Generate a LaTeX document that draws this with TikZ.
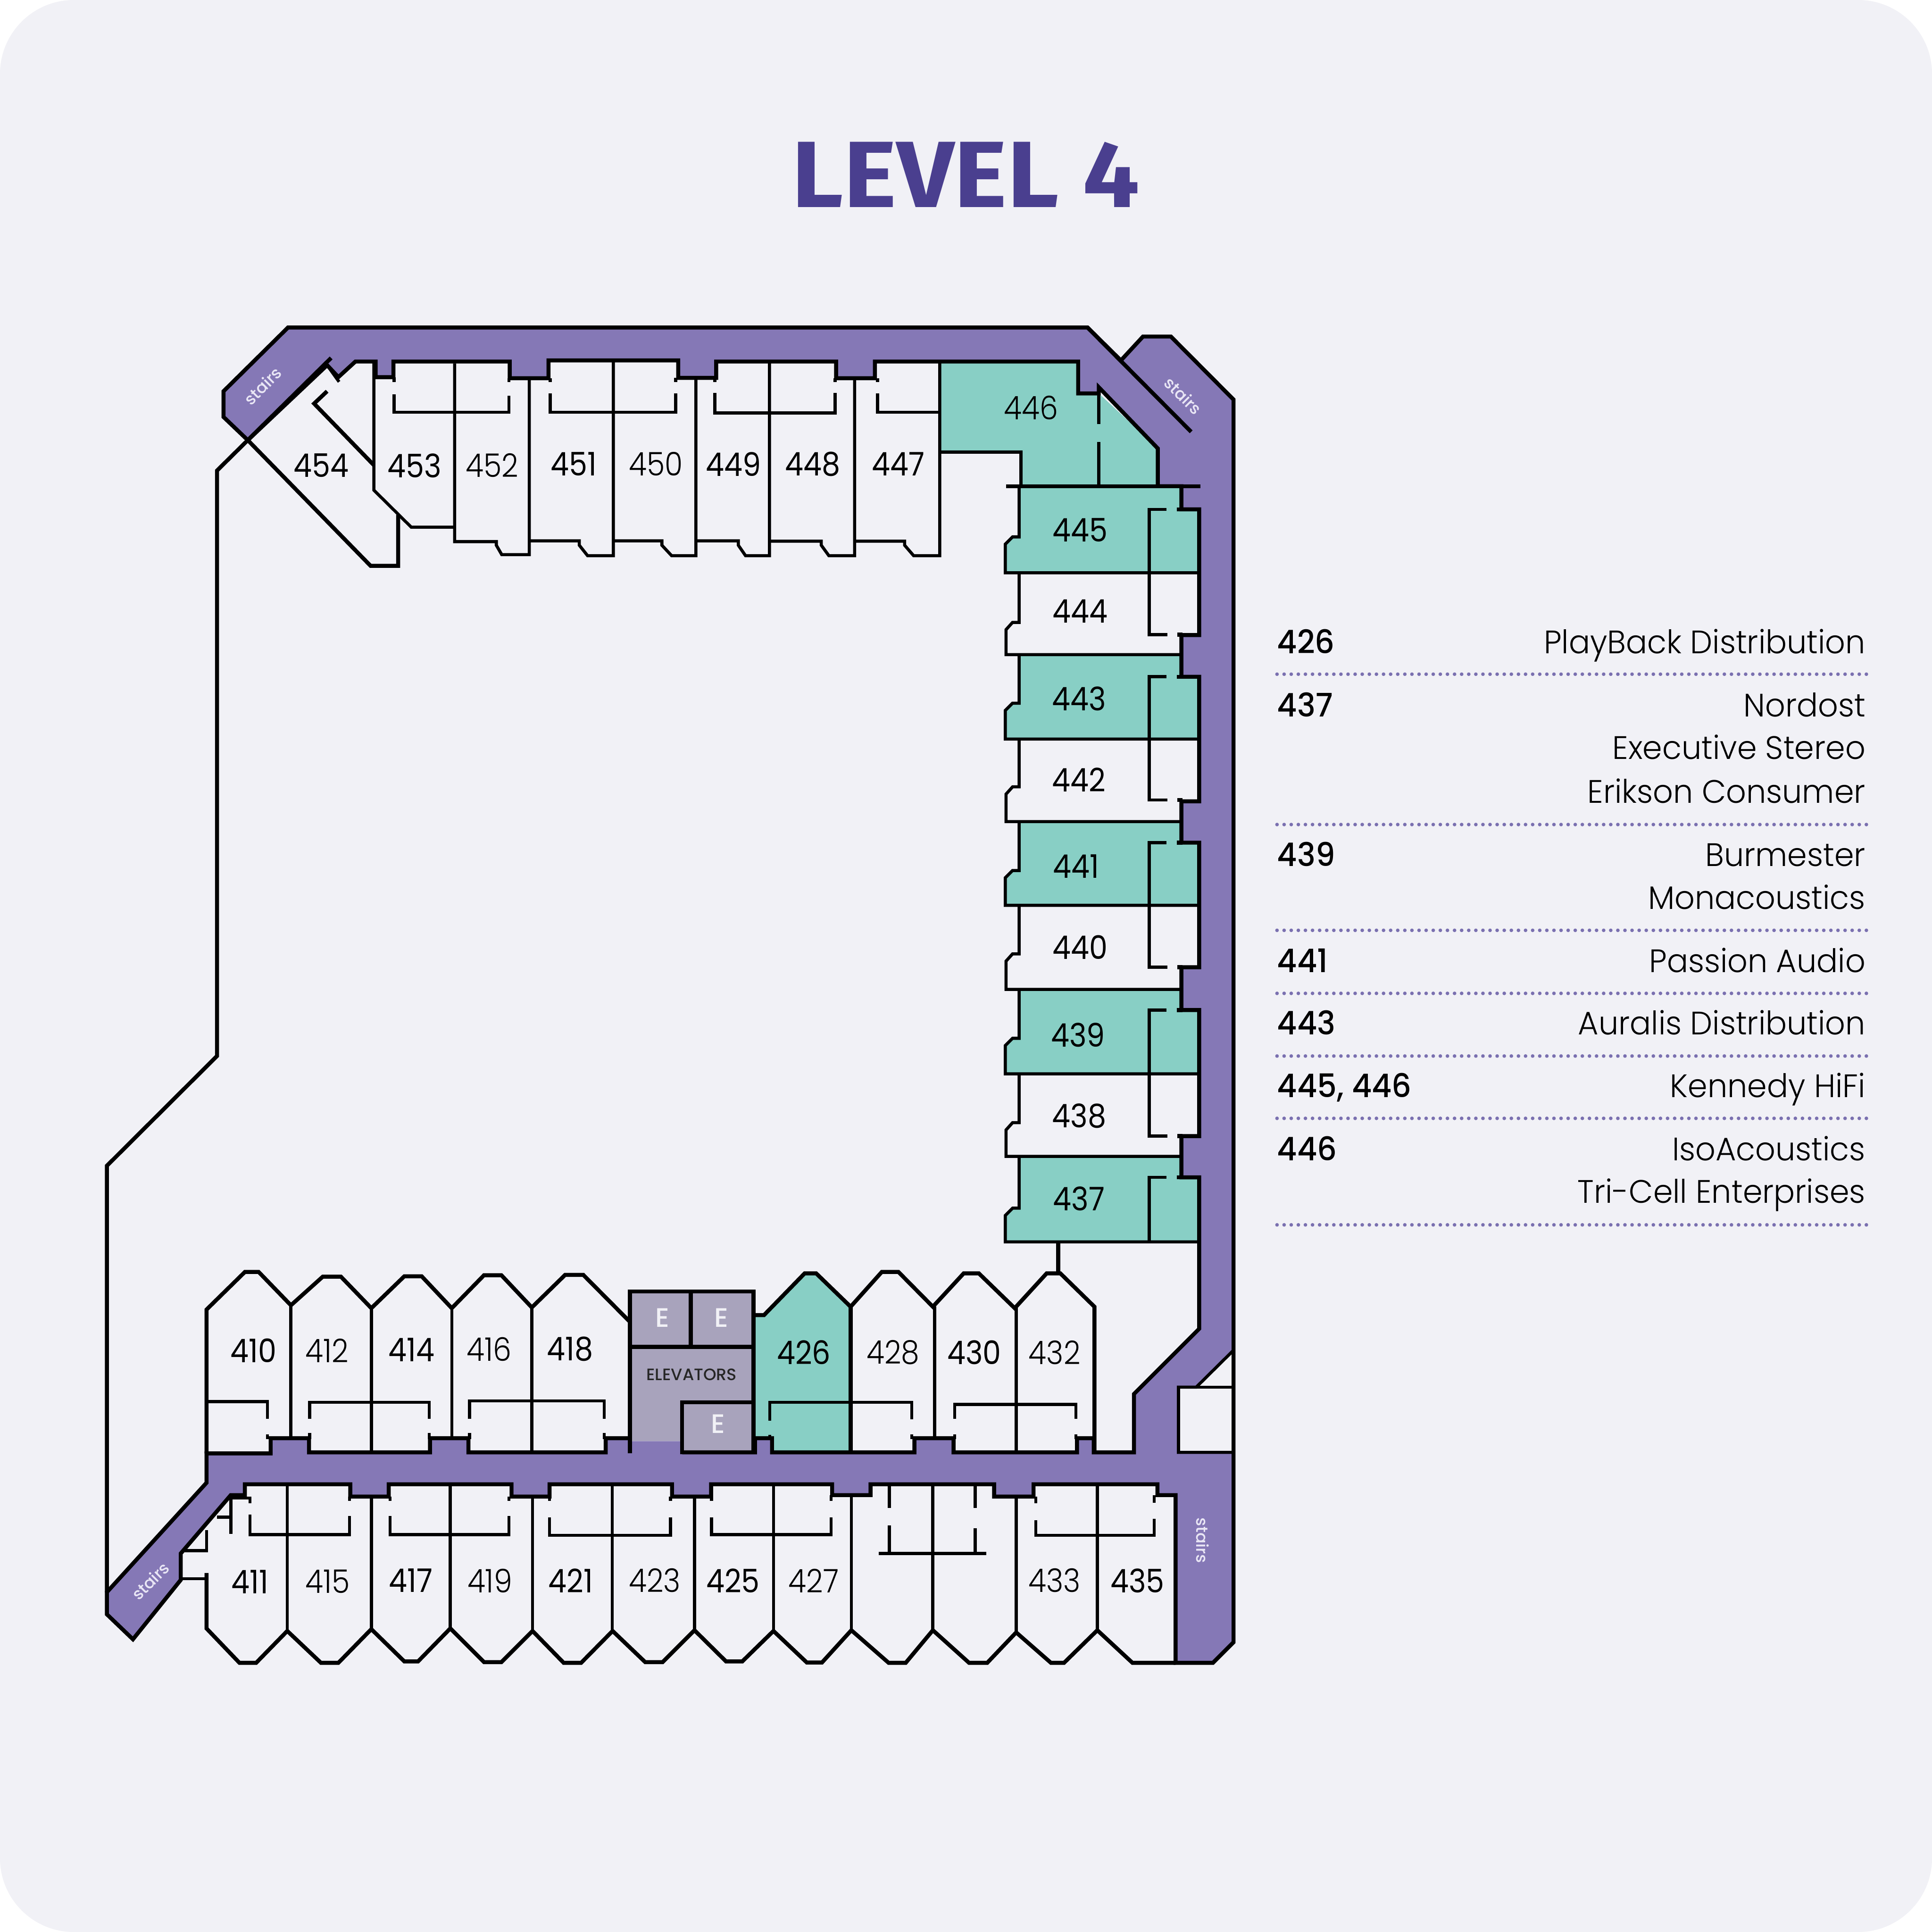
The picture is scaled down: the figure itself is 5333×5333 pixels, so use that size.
\documentclass[tikz,border=0pt]{standalone}
\usepackage{fontspec}
\setmainfont{Lato}
\newfontfamily\lightf{Poppins}[UprightFont=* Light,FakeStretch=0.97]
\newfontfamily\roomthin{Poppins}[UprightFont=* Light,FakeStretch=0.9]
\newfontfamily\roomreg{Poppins}[FakeStretch=0.9]
\newfontfamily\numf{Poppins}[UprightFont=* Medium,FakeStretch=0.95]
\newfontfamily\midf{Poppins}[UprightFont=* Medium]
\newfontfamily\titlef{Fira Sans}[UprightFont=* Bold,FakeStretch=1.07]
\definecolor{bgc}{HTML}{F1F1F6}
\definecolor{corr}{HTML}{8578B6}
\definecolor{teal4}{HTML}{88CFC5}
\definecolor{elev}{HTML}{A8A3BC}
\definecolor{titlec}{HTML}{4A3F8F}
\definecolor{dotc}{HTML}{7A70B0}
\definecolor{stairc}{HTML}{E9E6F5}
\tikzset{
  wall/.style={draw=black,line width=1.1mm,line join=miter},
  thin wall/.style={draw=black,line width=0.85mm,line join=miter},
  roomlabel/.style={inner sep=0pt,font=\roomreg\fontsize{25.5}{30}\selectfont,text=black},
  roomlabelthin/.style={inner sep=0pt,font=\roomthin\fontsize{25.5}{30}\selectfont,text=black},
  elabel/.style={inner sep=0pt,font=\midf\fontsize{21}{24}\selectfont,text=bgc},
  stairlabel/.style={inner sep=0pt,font=\midf\fontsize{12.8}{16}\selectfont,text=stairc},
  legnum/.style={inner sep=0pt,anchor=base west,font=\numf\fontsize{25.5}{30}\selectfont},
  legname/.style={inner sep=0pt,anchor=base east,font=\lightf\fontsize{25.5}{30}\selectfont},
  legrule/.style={draw=dotc,line width=1mm,line cap=round,dash pattern=on 0pt off 1.96mm},
}
\def\corrpath{(1883,4009) -- (1883,4009) -- (2084,4009) -- (2084,3970) -- (2131,3970) -- (2131,4009) -- (2524,4009) -- (2524,3970) -- (2632,3970) -- (2632,4009) -- (2973,4009) -- (2973,3970) -- (3019,3970) -- (3019,4009) -- (3130,4009) -- (3130,3848) -- (3310,3668) -- (3310,3250) -- (3261,3250) -- (3261,3136) -- (3310,3136) -- (3310,2788) -- (3261,2788) -- (3261,2670) -- (3310,2670) -- (3310,2326) -- (3261,2326) -- (3261,2212) -- (3310,2212) -- (3310,1868) -- (3261,1868) -- (3261,1753) -- (3310,1753) -- (3310,1406) -- (3261,1406) -- (3261,1342) -- (3196,1342) -- (3196,1238) -- (3033,1069) -- (3033,1086) -- (2976,1086) -- (2976,998) -- (2415,998) -- (2415,1044) -- (2308,1044) -- (2308,998) -- (1977,998) -- (1977,1043) -- (1872,1043) -- (1872,995) -- (1514,995) -- (1514,1044) -- (1407,1044) -- (1407,998) -- (1086,998) -- (1086,1041) -- (1037,1041) -- (1037,998) -- (981,998) -- (934,1041) -- (903,1008) -- (684,1215) -- (617,1151) -- (617,1080) -- (795,904) -- (3002,904) -- (3094,995) -- (3155,929) -- (3232,929) -- (3405,1103) -- (3405,4533) -- (3348,4590) -- (3245,4590) -- (3245,4127) -- (3195,4127) -- (3195,4097) -- (2853,4097) -- (2853,4131) -- (2744,4131) -- (2744,4097) -- (2403,4097) -- (2403,4127) -- (2297,4127) -- (2297,4097) -- (1963,4097) -- (1963,4131) -- (1855,4131) -- (1855,4097) -- (1517,4097) -- (1517,4131) -- (1412,4131) -- (1412,4097) -- (1073,4097) -- (1073,4131) -- (967,4131) -- (967,4097) -- (676,4097) -- (676,4127) -- (637,4127) -- (499,4288) -- (499,4361) -- (367,4525) -- (295,4456) -- (295,4395) -- (570,4093) -- (570,4012) -- (747,4012) -- (747,3970) -- (853,3970) -- (853,4009) -- (1187,4009) -- (1187,3970) -- (1293,3970) -- (1293,4009) -- (1672,4009) -- (1672,3970) -- (1739,3970)}
\begin{document}
\begin{tikzpicture}[x=0.1mm,y=-0.1mm]
\useasboundingbox (0,0) rectangle (5333,5333);
\fill[white] (0,0) rectangle (5333,5333);
\fill[bgc,rounded corners=20.4mm] (0,0) rectangle (5333,5333);

% title
\node[inner sep=0pt,text=titlec,font=\titlef\fontsize{74}{80}\selectfont] (title) at (2666,482) {LEVEL 4};

% corridor
\fill[corr] \corrpath -- (1739,3978) -- (1883,3978) -- cycle;

% teal rooms
\fill[teal4] (2594,1002) -- (2971,1002) -- (2971,1086) -- (3033,1086) -- (3196,1238) -- (3196,1340) -- (2818,1340) -- (2818,1248) -- (2594,1248) -- cycle;
\fill[teal4] (2084,3630) -- (2109,3630) -- (2221,3515) -- (2253,3515) -- (2348,3607) -- (2348,4009) -- (2131,4009) -- (2131,3970) -- (2084,3970) -- cycle;
\foreach \t/\d/\s/\b in {1342/1406/1482/1581,1807/1868/1941/2040,2268/2326/2403/2499,2731/2788/2866/2964,3192/3250/3335/3428}{
  \fill[teal4] (2813,\t) -- (3261,\t) -- (3261,\d) -- (3310,\d) -- (3310,\b) -- (2775,\b) -- (2775,{\s+20}) -- (2795,\s) -- (2813,\s) -- cycle;
  \draw[thin wall] (2813,\t) -- (2813,\s) -- (2795,\s) -- (2775,{\s+20}) -- (2775,\b) -- (3310,\b);
  \draw[thin wall] (3220,\d) -- (3172,\d) -- (3172,\b);
  \draw[wall] (3248,\d) -- (3264,\d);
}
% white east rooms
\foreach \t/\s/\b/\k/\d in {1581/1718/1807/1752/1753,2040/2172/2268/2208/2212,2499/2633/2731/2670/2670,2964/3099/3192/3136/3136}{
  \draw[thin wall] (2813,\t) -- (2813,\s) -- (2795,\s) -- (2777,{\s+20}) -- (2777,\b) -- (3261,\b);
  \draw[thin wall] (3172,\t) -- (3172,\k) -- (3223,\k);
  \draw[wall] (3250,\k) -- (3264,\k);
}
% elevators
\fill[elev] (1739,3565) rectangle (2080,3978);
\fill[elev] (1883,3978) rectangle (2080,4009);
\draw[wall] (1739,4012) -- (1739,3565) -- (2080,3565) -- (2080,4009) -- (1883,4009) -- (1883,3871) -- (2080,3871);
\draw[wall] (1739,3718) -- (2080,3718) (1907,3565) -- (1907,3718);

% corridor outline
\draw[wall] \corrpath;
\draw[wall] (684,1215) -- (914,988) (3002,904) -- (3288,1192);

% SE block in corridor
\fill[bgc] (3253,4009) -- (3253,3829) -- (3302,3829) -- (3403,3729) -- (3403,4009) -- cycle;
\draw[thin wall] (3403,4009) -- (3253,4009) -- (3253,3829) -- (3302,3829) -- (3403,3729);
\draw[thin wall] (3302,3829) -- (3403,3829);
\draw[wall] (3405,3650) -- (3405,4100);

% outer plot line
\draw[wall] (684,1215) -- (599,1299) -- (599,2915) -- (295,3218) -- (295,4395);

% 454
\draw[wall] (684,1215) -- (1023,1562) -- (1099,1562) -- (1099,1421);
\draw[wall] (903,1080) -- (867,1114) -- (1032,1284);
\draw[thin wall] (1032,998) -- (1032,1353) -- (1135,1455) -- (1255,1455);
\draw[thin wall] (903,1008) -- (936,1054);

% north rooms
\draw[thin wall] (1255,1003) -- (1255,1495) -- (1370,1495) -- (1370,1505) -- (1385,1531) -- (1461,1531) -- (1461,1044);
\draw[thin wall] (1693,998) -- (1693,1534) -- (1622,1534) -- (1599,1505) -- (1599,1493) -- (1461,1493);
\draw[thin wall] (1921,1044) -- (1921,1534) -- (1854,1534) -- (1827,1505) -- (1827,1493) -- (1693,1493);
\draw[thin wall] (2124,998) -- (2124,1534) -- (2058,1534) -- (2038,1505) -- (2038,1493) -- (1921,1493);
\draw[thin wall] (2359,1044) -- (2359,1534) -- (2288,1534) -- (2267,1505) -- (2267,1494) -- (2124,1494);
\draw[thin wall] (2594,998) -- (2594,1534) -- (2522,1534) -- (2497,1505) -- (2497,1494) -- (2359,1494);
\draw[thin wall] (1088,1041) -- (1088,1054) (1088,1089) -- (1088,1138) -- (1405,1138) -- (1405,1092) (1405,1044) -- (1405,1054);
\draw[thin wall] (1519,1044) -- (1519,1054) (1519,1086) -- (1519,1138) -- (1865,1138) -- (1865,1086) (1865,1043) -- (1865,1054);
\draw[thin wall] (1973,1043) -- (1973,1054) (1973,1085) -- (1973,1140) -- (2305,1140) -- (2305,1085) (2305,1044) -- (2305,1054);
\draw[thin wall] (2422,1044) -- (2422,1054) (2422,1086) -- (2422,1138) -- (2594,1138);
% 446
\draw[thin wall] (2594,1248) -- (2818,1248) -- (2818,1340);
\draw[thin wall] (3033,1086) -- (3033,1171) (3033,1220) -- (3033,1340);
\draw[wall] (2777,1342) -- (3313,1342);

% north-side lobby rooms, south block
\draw[wall] (570,4012) -- (570,3615) -- (676,3511) -- (714,3511) -- (803,3603) -- (891,3524) -- (941,3524) -- (1025,3611) -- (1116,3523) -- (1164,3523) -- (1247,3611) -- (1336,3520) -- (1384,3520) -- (1468,3609) -- (1560,3519) -- (1610,3519) -- (1739,3649);
\draw[thin wall] (803,3603) -- (803,3970) (1025,3611) -- (1025,4009) (1247,3611) -- (1247,3970) (1468,3609) -- (1468,4009);
\draw[thin wall] (570,3869) -- (738,3869) -- (738,3917) (738,3959) -- (738,3972);
\draw[thin wall] (855,3917) -- (855,3871) -- (1185,3871) -- (1185,3917) (855,3955) -- (855,3972) (1185,3955) -- (1185,3972);
\draw[thin wall] (1296,3917) -- (1296,3867) -- (1668,3867) -- (1668,3917) (1296,3955) -- (1296,3972) (1668,3955) -- (1668,3972);
\draw[wall] (2084,3630) -- (2109,3630) -- (2221,3515) -- (2253,3515) -- (2348,3607) -- (2434,3511) -- (2480,3511) -- (2575,3607) -- (2660,3515) -- (2702,3515) -- (2801,3611) -- (2889,3515) -- (2927,3515) -- (3021,3607) -- (3021,4009);
\draw[wall] (2348,3607) -- (2348,4009);
\draw[thin wall] (2580,3607) -- (2580,3970) (2805,3611) -- (2805,4009);
\draw[wall] (2921,3428) -- (2921,3515);
\draw[thin wall] (2125,3921) -- (2125,3871) -- (2517,3871) -- (2517,3918) (2125,3961) -- (2125,3972) (2517,3959) -- (2517,3972);
\draw[thin wall] (2635,3917) -- (2635,3877) -- (2970,3877) -- (2970,3917) (2635,3959) -- (2635,3972) (2970,3959) -- (2970,3972);

% south rooms
\draw[wall] (570,4342) -- (570,4495) -- (661,4590) -- (707,4590) -- (793,4502) -- (886,4590) -- (934,4590) -- (1025,4497) -- (1116,4586) -- (1154,4586) -- (1243,4495) -- (1336,4588) -- (1384,4588) -- (1470,4502) -- (1556,4590) -- (1604,4590) -- (1691,4502) -- (1781,4588) -- (1829,4588) -- (1917,4500) -- (2004,4586) -- (2049,4586) -- (2135,4502) -- (2227,4589) -- (2269,4589) -- (2350,4500) -- (2453,4590) -- (2500,4590) -- (2575,4500) -- (2675,4590) -- (2725,4590) -- (2805,4506) -- (2901,4590) -- (2937,4590) -- (3029,4500) -- (3126,4590) -- (3245,4590);
\draw[thin wall] (793,4097) -- (793,4502) (1025,4131) -- (1025,4497) (1243,4097) -- (1243,4495) (1470,4131) -- (1470,4502) (1690,4097) -- (1690,4502) (1917,4131) -- (1917,4500) (2135,4097) -- (2135,4502) (2350,4131) -- (2350,4500) (2575,4097) -- (2575,4500) (2805,4131) -- (2805,4506) (3029,4097) -- (3029,4500);
\draw[thin wall] (499,4358) -- (570,4358) (503,4280) -- (570,4280) -- (570,4223) (599,4188) -- (637,4188) (637,4127) -- (637,4234);
\draw[thin wall] (637,4135) -- (690,4135) -- (690,4150) (690,4181) -- (690,4236) -- (965,4236) -- (965,4185) (965,4131) -- (965,4143);
\draw[thin wall] (1077,4131) -- (1077,4143) (1077,4185) -- (1077,4236) -- (1405,4236) -- (1405,4185) (1405,4131) -- (1405,4143);
\draw[thin wall] (1517,4131) -- (1517,4143) (1517,4188) -- (1517,4238) -- (1851,4238) -- (1851,4188) (1851,4131) -- (1851,4143);
\draw[thin wall] (1964,4131) -- (1964,4143) (1964,4188) -- (1964,4236) -- (2294,4236) -- (2294,4188) (2294,4127) -- (2294,4143);
\draw[thin wall] (2426,4288) -- (2723,4288) (2455,4097) -- (2455,4162) (2455,4211) -- (2455,4288) (2692,4097) -- (2692,4162) (2692,4219) -- (2692,4288);
\draw[thin wall] (2859,4131) -- (2859,4150) (2859,4196) -- (2859,4238) -- (3186,4238) -- (3186,4192) (3186,4127) -- (3186,4148);

% room numbers
\foreach \x/\y/\n in {887/1285/454,1144/1285/453,1584/1281/451,2025/1281/449,2243/1281/448,2480/1281/447,2981/1687/444,2978/1928/443,2978/2152/442,2982/2615/440,2979/3080/438,700/3728/410,1136/3726/414,1574/3724/418,2219/3733/426,2689/3733/430,690/4366/411,1134/4363/417,1575/4363/421,2023/4363/425,3140/4363/435,2981/1463/445,2978/3309/437,2970/2391/441,2976/2857/439}
  \node[roomlabel] (r\n) at (\x,\y) {\n};
\foreach \x/\y/\n in {1358/1285/452,1811/1281/450,2846/1125/446,903/3728/412,1350/3724/416,2465/3733/428,2911/3733/432,904/4366/415,1352/4363/419,1807/4363/423,2246/4363/427,2911/4363/433}
  \node[roomlabelthin] (r\n) at (\x,\y) {\n};

% elevators text
\node[elabel] (e1) at (1829,3638) {E};
\node[elabel] (e2) at (1991,3638) {E};
\node[elabel] (e3) at (1982,3931) {E};
\node[inner sep=0pt,font=\midf\fontsize{13}{15}\selectfont,text=black!85] (elevators) at (1909,3794) {ELEVATORS};

% stairs
\node[stairlabel,rotate=45] (s1) at (725,1065) {stairs};
\node[stairlabel,rotate=-45] (s2) at (3266,1092) {stairs};
\node[stairlabel,rotate=45] (s3) at (415,4364) {stairs};
\node[stairlabel,rotate=-90] (s4) at (3320,4252) {stairs};

% legend
\foreach \y in {1861,2276,2568,2742,2915,3087,3381}
  \draw[legrule] (3525,\y) -- (5165,\y);
\node[legnum] (n1) at (3525,1804) {426};
\node[legname] (t1) at (5150,1804) {PlayBack Distribution};
\node[legnum] (n2) at (3525,1978) {437};
\node[legname] (t2a) at (5150,1978) {Nordost};
\node[legname] (t2b) at (5150,2096) {Executive Stereo};
\node[legname] (t2c) at (5150,2217) {Erikson Consumer};
\node[legnum] (n3) at (3525,2391) {439};
\node[legname] (t3a) at (5150,2391) {Burmester};
\node[legname] (t3b) at (5150,2510) {Monacoustics};
\node[legnum] (n4) at (3525,2684) {441};
\node[legname] (t4) at (5150,2684) {Passion Audio};
\node[legnum] (n5) at (3525,2856) {443};
\node[legname] (t5) at (5150,2856) {Auralis Distribution};
\node[legnum] (n6) at (3525,3029) {445, 446};
\node[legname] (t6) at (5150,3029) {Kennedy HiFi};
\node[legnum] (n7) at (3525,3203) {446};
\node[legname] (t7a) at (5150,3203) {IsoAcoustics};
\node[legname] (t7b) at (5150,3321) {Tri-Cell Enterprises};
\end{tikzpicture}
\end{document}
